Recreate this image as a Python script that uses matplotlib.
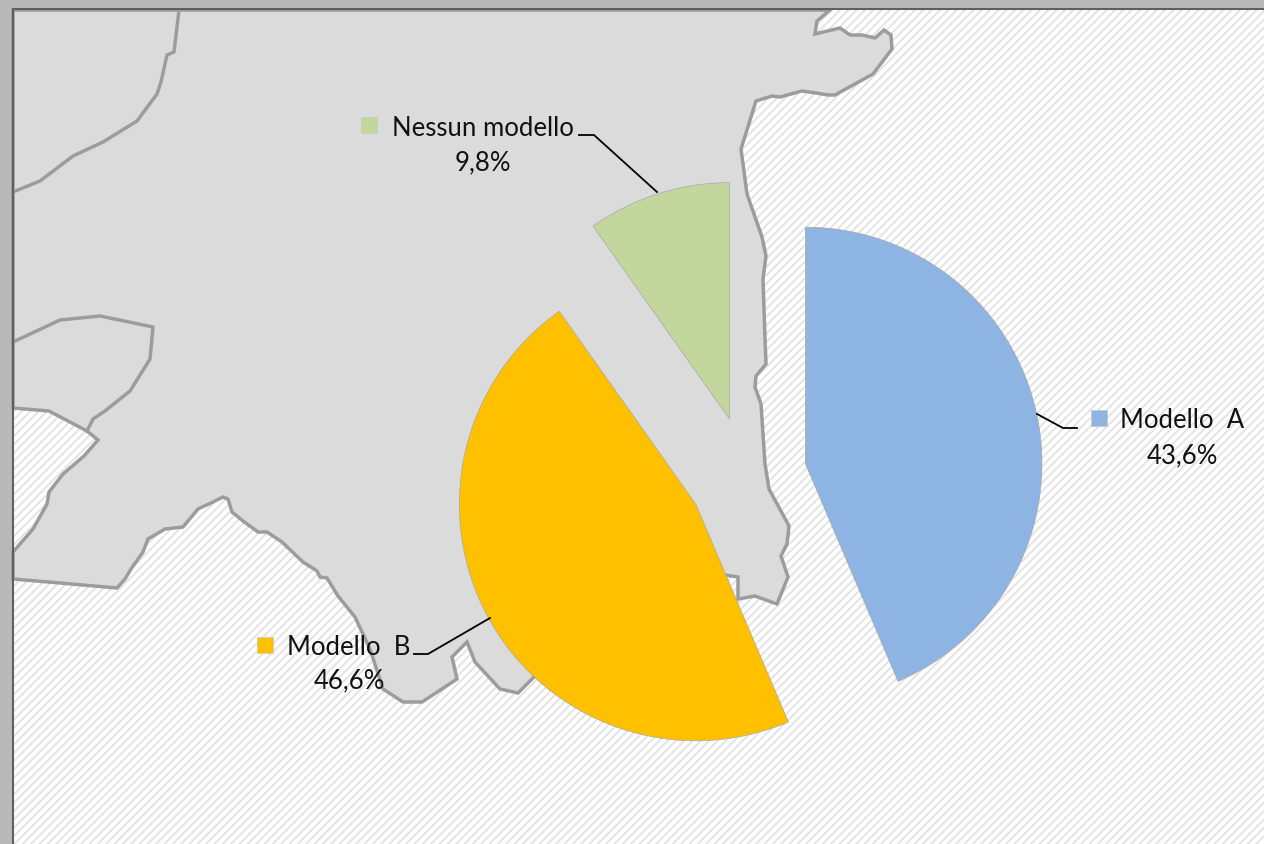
import matplotlib
matplotlib.use("Agg")
import matplotlib.pyplot as plt
from matplotlib.patches import Polygon, Rectangle

W, H = 1264, 845

categories = ["Modello  A", "Modello  B", "Nessun modello"]
values = [43.6, 46.6, 9.8]
colors = ["#8EB4E3", "#FFC000", "#C3D69B"]
value_labels = ["43,6%", "46,6%", "9,8%"]

# background map, traced in image pixels
land = [(830, 11), (817, 22), (815, 35), (840, 29), (850, 36), (862, 36), (875, 39), (884, 31),
        (891, 36), (892, 50), (873, 75), (835, 96), (828, 96), (816, 94), (802, 92), (780, 98),
        (772, 97), (756, 102), (741, 150), (747, 195), (762, 238), (766, 257), (763, 280),
        (765, 340), (766, 365), (756, 377), (755, 388), (761, 405), (765, 465), (769, 490),
        (789, 527), (787, 545), (781, 557), (788, 578), (777, 605), (755, 597), (738, 600),
        (738, 578), (725, 576), (640, 600), (534, 678), (518, 694), (500, 690), (475, 663),
        (467, 643), (452, 658), (457, 680), (422, 703), (403, 703), (383, 690), (370, 650),
        (355, 618), (338, 597), (327, 579), (320, 578), (317, 572), (303, 563), (282, 543),
        (267, 533), (258, 533), (243, 522), (232, 513), (228, 500), (223, 498), (213, 503),
        (198, 510), (183, 528), (165, 530), (148, 540), (143, 553), (131, 570), (125, 580),
        (117, 589), (60, 584), (13, 580), (13, 553), (33, 530), (47, 505), (49, 493), (63, 475),
        (84, 457), (98, 441), (87, 432), (49, 412), (13, 409), (13, 11)]
border_north = [(13, 193), (40, 182), (73, 157), (103, 143), (137, 122), (157, 95), (161, 83),
                (167, 56), (174, 53), (179, 11)]
border_west = [(13, 343), (60, 321), (100, 317), (153, 328), (150, 360), (130, 392), (105, 412),
               (93, 420), (87, 432)]


def flip(points):
    return [(x, H - y) for x, y in points]


plt.rcParams["font.family"] = ["Lato", "DejaVu Sans"]
plt.rcParams["hatch.linewidth"] = 1.3
plt.rcParams["hatch.color"] = "#E2E2E2"

fig = plt.figure(figsize=(12.64, 8.45), dpi=100, facecolor="#B9B9B9")
ax = fig.add_axes([0, 0, 1, 1])

ax.add_patch(Rectangle((13, 0), W - 13, H - 10, facecolor="white", edgecolor="none", zorder=0))
ax.add_patch(Rectangle((13, 0), W - 13, H - 10, facecolor="none", edgecolor="#E2E2E2", hatch="////", lw=0, zorder=1))
ax.add_patch(Polygon(flip(land), closed=True, facecolor="#DBDBDB", edgecolor="#9C9C9C", lw=2.5, zorder=2))
ax.plot(*zip(*flip(border_north)), color="#9C9C9C", lw=2.5, zorder=3)
ax.plot(*zip(*flip(border_west)), color="#9C9C9C", lw=2.5, zorder=3)
ax.plot([13, 13, W], [0, H - 10, H - 10], color="#5F5F5F", lw=1.5, zorder=4)

# pie explode is in data units here, so a quarter of the radius
radius = 236.5
wedges, _ = ax.pie(values, colors=colors, startangle=90, counterclock=False,
                   explode=[radius * 0.25] * 3, radius=radius, center=(747.5, H - 476.5), frame=True,
                   wedgeprops={"edgecolor": "#A8A8A8", "linewidth": 0.5, "zorder": 5})

ax.set_xlim(0, W)
ax.set_ylim(0, H)
ax.set_aspect("auto")
ax.axis("off")

# label anchors: key x, key y, name x, name y, value x, value y
label_pos = [(1099, 419, 1182, 421, 1182, 456),
             (265, 646, 349, 648, 349, 681),
             (369, 126, 483, 128, 483, 163)]
leaders = [[(1037, 415), (1063, 429), (1077, 429)],
           [(490, 619), (428, 655), (414, 655)],
           [(657, 193), (594, 136), (579, 136)]]

for i in range(3):
    kx, ky, nx, ny, vx, vy = label_pos[i]
    ax.add_patch(Rectangle((kx - 8, H - ky - 8), 16, 16, facecolor=colors[i], edgecolor="#C8C8C8", lw=0.5, zorder=6))
    ax.text(nx, H - ny, categories[i], fontsize=18.5, color="#111111", ha="center", va="center", zorder=6)
    ax.text(vx, H - vy, value_labels[i], fontsize=18.5, color="#111111", ha="center", va="center", zorder=6)
    ax.plot(*zip(*flip(leaders[i])), color="black", lw=1.3, zorder=6)

fig.savefig("out.png", dpi=100, facecolor=fig.get_facecolor())
